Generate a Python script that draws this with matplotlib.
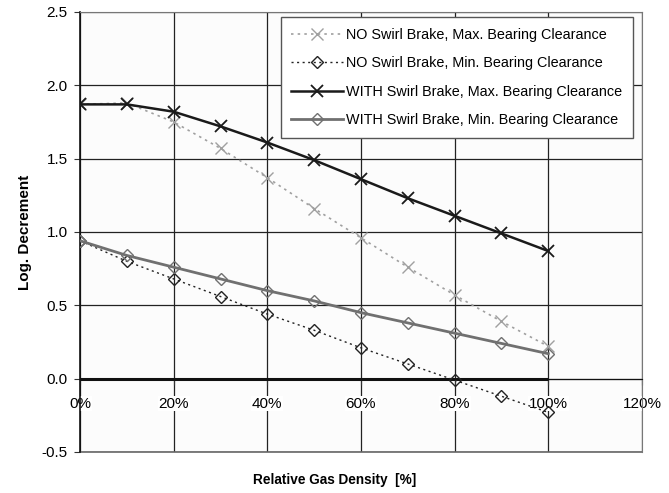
import matplotlib
matplotlib.use('Agg')
import matplotlib.pyplot as plt
import numpy as np

plt.rcParams['font.family'] = ['Liberation Sans', 'DejaVu Sans']

# relative gas density (fraction, shown as %)
density = [0.0, 0.1, 0.2, 0.3, 0.4, 0.5, 0.6, 0.7, 0.8, 0.9, 1.0]

no_swirl_max = [1.87, 1.88, 1.75, 1.57, 1.37, 1.16, 0.96, 0.76, 0.57, 0.39, 0.22]
no_swirl_min = [0.94, 0.80, 0.68, 0.56, 0.44, 0.33, 0.21, 0.10, -0.01, -0.12, -0.23]
with_swirl_max = [1.87, 1.87, 1.82, 1.72, 1.61, 1.49, 1.36, 1.23, 1.11, 0.99, 0.87]
with_swirl_min = [0.94, 0.84, 0.76, 0.68, 0.60, 0.53, 0.45, 0.38, 0.31, 0.24, 0.17]

labels = ['NO Swirl Brake, Max. Bearing Clearance',
          'NO Swirl Brake, Min. Bearing Clearance',
          'WITH Swirl Brake, Max. Bearing Clearance',
          'WITH Swirl Brake, Min. Bearing Clearance']

x_ticks = [0.0, 0.2, 0.4, 0.6, 0.8, 1.0, 1.2]
x_ticklabels = ['0%', '20%', '40%', '60%', '80%', '100%', '120%']
y_ticks = [-0.5, 0.0, 0.5, 1.0, 1.5, 2.0, 2.5]

fig = plt.figure(figsize=(6.69, 4.93), dpi=100)
ax = fig.add_axes([0.1196, 0.0832, 0.84, 0.8925])
ax.set_facecolor('#fcfcfc')

ax.plot(density, no_swirl_max, color='#a0a0a0', ls=(0, (1.5, 2.5)), lw=1.2,
        marker='x', ms=8, mew=1.0, label=labels[0], zorder=3)
ax.plot(density, no_swirl_min, color='#222222', ls=(0, (1.5, 2.5)), lw=1.0,
        marker='D', ms=6, mfc='none', mew=1.0, label=labels[1], zorder=3)
ax.plot(density, with_swirl_max, color='#1a1a1a', lw=1.8,
        marker='x', ms=9, mew=1.3, label=labels[2], zorder=4)
ax.plot(density, with_swirl_min, color='#707070', lw=2.0,
        marker='D', ms=6, mfc='none', mew=1.0, label=labels[3], zorder=4)

# thick zero line under the data range
ax.hlines(0, density[0], density[-1], color='#111111', lw=2.2, zorder=2)

ax.set_xlim(0, 1.2)
ax.set_ylim(-0.5, 2.5)
ax.set_xticks(x_ticks)
ax.set_xticklabels(x_ticklabels)
ax.set_yticks(y_ticks)
ax.set_yticklabels(['%.1f' % v for v in y_ticks])
ax.grid(True, color='#222222', lw=0.9)
ax.set_axisbelow(True)

# plot area bottom edge (x axis itself crosses at zero)
ax.axhline(ax.get_ylim()[0], color='#666666', lw=1.2, clip_on=False)

ax.spines['bottom'].set_position(('data', 0))
ax.spines['bottom'].set_color('#111111')
ax.spines['left'].set_color('#111111')
ax.spines['left'].set_linewidth(1.2)
for s in ['top', 'right']:
    ax.spines[s].set_color('#777777')

ax.tick_params(axis='both', labelsize=11, length=4, color='#333333')
ax.tick_params(axis='x', pad=9)
ax.tick_params(axis='y', pad=5)
for lab in ax.get_xticklabels():
    lab.set_bbox(dict(facecolor='white', edgecolor='none', pad=0.5))

ax.set_ylabel('Log. Decrement', fontsize=11, fontweight='bold', labelpad=7)
fig.text(0.5, 0.026, 'Relative Gas Density  [%]', ha='center', va='center',
         fontsize=9.8, fontweight='bold')

leg = ax.legend(loc='upper right', bbox_to_anchor=(0.987, 0.992), fontsize=10.4,
                handlelength=3.6, handletextpad=0.2, labelspacing=1.0,
                borderpad=0.75, fancybox=False, framealpha=1, borderaxespad=0.1)
leg.get_frame().set_edgecolor('#555555')
leg.get_frame().set_linewidth(1.0)

fig.savefig('out.png', dpi=100)
